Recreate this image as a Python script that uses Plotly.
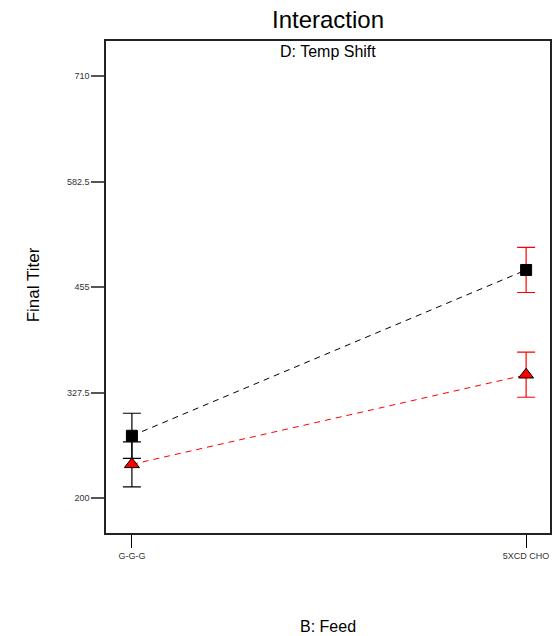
import plotly.graph_objects as go

feeds = ["G-G-G", "5XCD CHO"]
feed_pos = [0, 1]
temp_low = [275.5, 475.7]     # black squares
temp_high = [241.0, 349.2]    # red triangles
lsd_half = 27.2
y_ticks = [200, 327.5, 455, 582.5, 710]
y_tick_text = ["200", "327.5", "455", "582.5", "710"]

fig = go.Figure()

# error bars: black at G-G-G, red at 5XCD CHO
bar_colors = ["black", "red"]
for i, c in enumerate(bar_colors):
    fig.add_trace(go.Scatter(
        x=[feed_pos[i], feed_pos[i]],
        y=[temp_low[i], temp_high[i]],
        mode="markers",
        marker=dict(size=1, opacity=0),
        error_y=dict(type="constant", value=lsd_half, color=c, thickness=1.2, width=9),
        showlegend=False, hoverinfo="skip"))

fig.add_trace(go.Scatter(
    x=feed_pos, y=temp_low, mode="lines+markers",
    line=dict(color="black", width=1, dash="6px,5px"),
    marker=dict(symbol="square", size=11, color="black", line=dict(color="black", width=1)),
    showlegend=False))
fig.add_trace(go.Scatter(
    x=feed_pos, y=temp_high, mode="lines+markers",
    line=dict(color="red", width=1, dash="6px,5px"),
    marker=dict(symbol="triangle-up", size=13, color="red", line=dict(color="black", width=1)),
    showlegend=False))

fig.update_layout(
    width=555, height=636,
    margin=dict(l=106, r=3, t=41, b=103),
    paper_bgcolor="white", plot_bgcolor="white",
    font=dict(family="Liberation Sans, Arial, sans-serif", color="black"),
    xaxis=dict(
        range=[-0.0657, 1.0606], tickvals=feed_pos, ticktext=feeds,
        ticks="outside", ticklen=13, tickcolor="black", tickwidth=1,
        tickfont=dict(size=9, color="#333"),
        showline=True, linecolor="#222", linewidth=1.5, mirror=True,
        showgrid=False, zeroline=False),
    yaxis=dict(
        range=[158.1, 752.2], tickvals=y_ticks, ticktext=y_tick_text,
        ticks="outside", ticklen=13, tickcolor="#555", tickwidth=1.5,
        tickfont=dict(size=9, color="#333"),
        showline=True, linecolor="#222", linewidth=1.5, mirror=True,
        showgrid=False, zeroline=False),
    annotations=[
        dict(text="Interaction", x=0.5, y=(533 - 20) / 492, xref="paper", yref="paper",
             showarrow=False, font=dict(size=24), xanchor="center", yanchor="middle"),
        dict(text="D: Temp Shift", x=0.5, y=(533 - 51) / 492, xref="paper", yref="paper",
             showarrow=False, font=dict(size=16), xanchor="center", yanchor="middle"),
        dict(text="Final Titer", x=(33 - 106) / 446, y=(533 - 285) / 492, xref="paper", yref="paper",
             showarrow=False, font=dict(size=17), textangle=-90, xanchor="center", yanchor="middle"),
        dict(text="B: Feed", x=0.5, y=(533 - 626) / 492, xref="paper", yref="paper",
             showarrow=False, font=dict(size=16), xanchor="center", yanchor="middle"),
    ],
)

fig.write_html(
    "out.html",
    config={"displayModeBar": False},
    post_script="document.body.style.margin='0';document.body.style.overflow='hidden';",
)
